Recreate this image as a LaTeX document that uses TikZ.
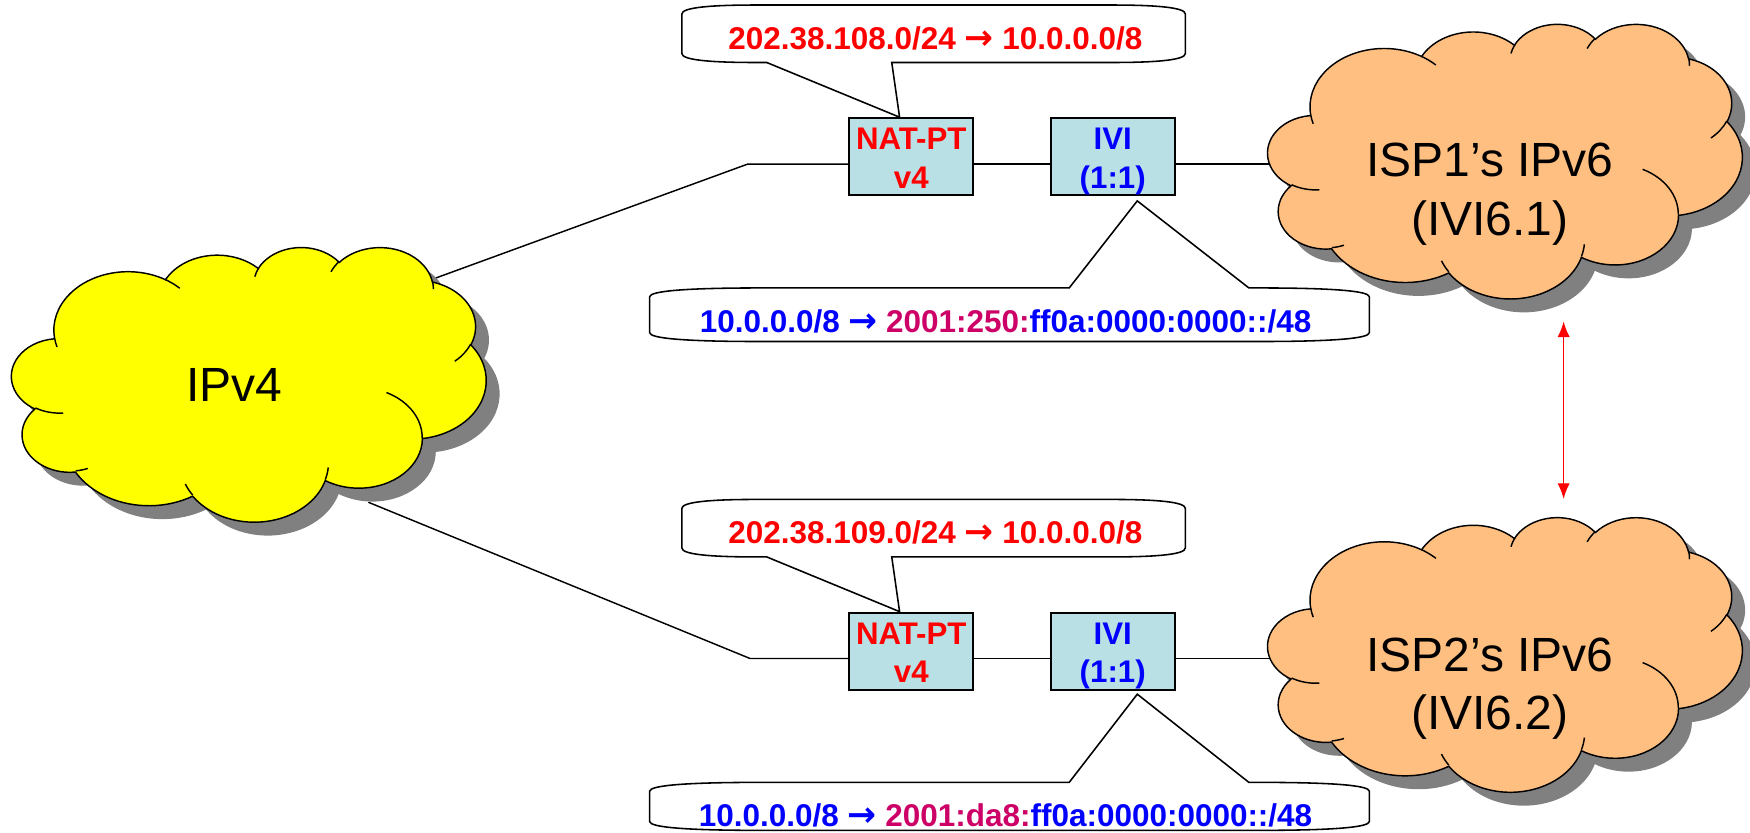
\documentclass[tikz,border=0pt]{standalone}
\usepackage{fontspec}
\setmainfont{Liberation Sans}
\newfontfamily\arrowfont{DejaVu Sans}
\newcommand\addrarrow{{\arrowfont\fontsize{31}{33}\selectfont →}}
\usetikzlibrary{arrows.meta,calc}
\definecolor{boxfill}{RGB}{185,224,228}
\definecolor{ipvyellow}{RGB}{255,255,0}
\definecolor{isporange}{RGB}{255,191,128}
\definecolor{shadowgray}{RGB}{128,128,128}
\definecolor{addrred}{RGB}{255,0,0}
\definecolor{addrblue}{RGB}{0,0,255}
\definecolor{addrmag}{RGB}{204,0,102}
% elliptic arc defined by visual angles (DrawingML style)
\newcommand\defcarc[5]{%
  \pgfmathsetmacro\ctA{atan2((#2)*sin(#4),(#3)*cos(#4))}%
  \pgfmathsetmacro\ctB{atan2((#2)*sin((#4)+(#5)),(#3)*cos((#4)+(#5)))}%
  \pgfmathsetmacro\ctD{mod((\ctB)-(\ctA)+540,360)-180}%
  \expandafter\xdef\csname carc#1\endcsname{arc[x radius=#2, y radius=#3, start angle=\ctA, delta angle=\ctD]}}
\defcarc{A}{6.753}{9.19}{-190.4875}{123.7805}
\defcarc{B}{5.333}{7.267}{-144.1024}{89.9452}
\defcarc{C}{4.365}{5.945}{-145.8079}{99.7230}
\defcarc{D}{4.857}{6.595}{-130.9861}{117.2417}
\defcarc{E}{5.333}{7.273}{-78.7089}{109.0269}
\defcarc{F}{6.775}{9.22}{-46.2673}{130.2690}
\defcarc{G}{5.785}{7.867}{0.6250}{114.0333}
\defcarc{H}{6.752}{9.215}{22.4516}{115.1726}
\defcarc{I}{7.72}{10.543}{66.2426}{75.7110}
\defcarc{J}{4.36}{5.918}{-274.9421}{146.7356}
\defcarc{K}{4.345}{5.945}{-246.8285}{152.5189}
\defcarc{a}{4.345}{5.945}{86.7420}{26.4295}
\defcarc{b}{4.36}{5.918}{73.6105}{11.4475}
\defcarc{c}{6.752}{9.215}{137.6242}{14.0811}
\defcarc{d}{6.752}{9.215}{6.4533}{15.9984}
\defcarc{e}{5.785}{7.867}{-70.2924}{70.9174}
\defcarc{f}{5.333}{7.273}{30.3180}{27.7515}
\defcarc{g}{4.857}{6.595}{-13.7443}{14.8589}
\defcarc{h}{4.857}{6.595}{-149.1815}{18.1954}
\defcarc{i}{4.365}{5.945}{-163.4943}{17.6864}
\defcarc{j}{6.753}{9.19}{-66.7070}{12.3194}
\defcarc{k}{6.753}{9.19}{157.6544}{11.8582}
\def\cloudpath{(3.9,14.37) \carcA \carcB \carcC \carcD \carcE \carcF \carcG \carcH \carcI \carcJ \carcK -- cycle}
\def\cloudinner{(4.693,26.177) \carca (6.928,34.899) \carcb (16.478,39.09) \carcc (28.827,34.751) \carcd (34.129,22.954) \carce (41.798,15.354) \carcf (38.324,5.426) \carcg (29.078,3.952) \carch (22.141,4.72) \carci (14.0,5.192) \carcj (4.127,15.789) \carck}
\newcommand\pptcloud[3]{%
  \begin{scope}[shift={(#1+12,#2+12)},x=9.838pt,y=-5.694pt]
    \fill[shadowgray] \cloudpath;
  \end{scope}
  \begin{scope}[shift={(#1,#2)},x=9.838pt,y=-5.694pt]
    \filldraw[fill=#3,draw=black,line width=1.3pt] \cloudpath;
    \draw[line width=1.3pt] \cloudinner;
  \end{scope}}
% callout with wedge on the bottom edge
\newcommand\calloutdown[8]{%
  \draw[callout] (#1,#2+8) .. controls (#1,#2+2.5) and (#1+0.35*#5,#2) .. (#1+#5,#2) -- (#3-#5,#2)
    .. controls (#3-0.35*#5,#2) and (#3,#2+2.5) .. (#3,#2+8) -- (#3,#4-8)
    .. controls (#3,#4-2.5) and (#3-0.35*#5,#4) .. (#3-#5,#4) -- (#7,#4) -- (#8) -- (#6,#4) -- (#1+#5,#4)
    .. controls (#1+0.35*#5,#4) and (#1,#4-2.5) .. (#1,#4-8) -- cycle;}
% callout with wedge on the top edge
\newcommand\calloutup[8]{%
  \draw[callout] (#1,#2+8) .. controls (#1,#2+2.5) and (#1+0.35*#5,#2) .. (#1+#5,#2) -- (#6,#2) -- (#8) -- (#7,#2) -- (#3-#5,#2)
    .. controls (#3-0.35*#5,#2) and (#3,#2+2.5) .. (#3,#2+8) -- (#3,#4-8)
    .. controls (#3,#4-2.5) and (#3-0.35*#5,#4) .. (#3-#5,#4) -- (#1+#5,#4)
    .. controls (#1+0.35*#5,#4) and (#1,#4-2.5) .. (#1,#4-8) -- cycle;}
\begin{document}
\begin{tikzpicture}[x=1pt,y=-1pt,
  link/.style={draw=black,line width=1.3pt},
  devbox/.style={draw=black,line width=1.8pt,fill=boxfill,minimum width=111pt,minimum height=69pt,inner sep=0pt,outer sep=0pt},
  callout/.style={draw=black,line width=1.4pt,fill=white},
  boxlbl/.style={font=\bfseries\fontsize{28}{33}\selectfont,anchor=base,inner sep=0pt},
  calloutlbl/.style={font=\bfseries\fontsize{28.2}{33}\selectfont,anchor=base,inner sep=0pt},
  cloudlbl/.style={font=\fontsize{43}{52}\selectfont,anchor=base,inner sep=0pt}]
\useasboundingbox (0,0) rectangle (1568,746);
% devices
\node[devbox] (natA) at (816.5,140.5) {};
\node[devbox] (iviA) at (997,140.5) {};
\node[devbox] (natB) at (816.5,583.5) {};
\node[devbox] (iviB) at (997,583.5) {};
% connector points
\coordinate (v4top) at (388,250);
\coordinate (jogA) at (670,147);
\coordinate (isp1w) at (1150,147);
\coordinate (v4bot) at (330,450);
\coordinate (jogB) at (672,590);
\coordinate (isp2w) at (1150,590);
\draw[link] (v4top) -- (jogA) -- (natA.west |- jogA);
\draw[link] (natA.east |- jogA) -- (iviA.west |- jogA);
\draw[link] (iviA.east |- jogA) -- (isp1w);
\draw[link] (v4bot) -- (jogB) -- (natB.west |- jogB);
\draw[link] (natB.east |- jogB) -- (iviB.west |- jogB);
\draw[link] (iviB.east |- jogB) -- (isp2w);
% clouds
\pptcloud{10.5}{221}{ipvyellow}
\pptcloud{1136}{21}{isporange}
\pptcloud{1136}{463}{isporange}
% callouts
\coordinate (tipNA) at (806,105);
\coordinate (tipIA) at (1019,180);
\coordinate (tipNB) at (806,548);
\coordinate (tipIB) at (1019,622);
\calloutdown{611}{4.5}{1062}{56}{66}{687}{799}{tipNA}
\calloutup{582}{258}{1227}{306}{100}{958}{1119}{tipIA}
\calloutdown{611}{447.5}{1062}{499}{66}{687}{799}{tipNB}
\calloutup{582}{701}{1227}{744}{100}{958}{1119}{tipIB}
% red arrow
\coordinate (arrTop) at (1401,288);
\coordinate (arrBot) at (1401,447);
\draw[addrred,line width=1.2pt,{Latex[length=14pt,width=11pt]}-{Latex[length=14pt,width=11pt]}] (arrTop) -- (arrBot);
% texts
\node[calloutlbl,text=addrred] (txtNA) at (838,44) {202.38.108.0/24 \addrarrow{} 10.0.0.0/8};
\node[calloutlbl,text=addrblue] (txtIA) at (901,297.5) {10.0.0.0/8 \addrarrow{} \textcolor{addrmag}{2001:250:}ff0a:0000:0000::/48};
\node[calloutlbl,text=addrred] (txtNB) at (838,487) {202.38.109.0/24 \addrarrow{} 10.0.0.0/8};
\node[calloutlbl,text=addrblue] (txtIB) at (901,740.5) {10.0.0.0/8 \addrarrow{} \textcolor{addrmag}{2001:da8:}ff0a:0000:0000::/48};
\node[boxlbl,text=addrred] (natAl1) at (816.5,134.4) {NAT-PT};
\node[boxlbl,text=addrred] (natAl2) at (816.5,168.5) {v4};
\node[boxlbl,text=addrblue] (iviAl1) at (997,134.4) {IVI};
\node[boxlbl,text=addrblue] (iviAl2) at (997,168.5) {(1:1)};
\node[boxlbl,text=addrred] (natBl1) at (816.5,577.4) {NAT-PT};
\node[boxlbl,text=addrred] (natBl2) at (816.5,611.5) {v4};
\node[boxlbl,text=addrblue] (iviBl1) at (997,577.4) {IVI};
\node[boxlbl,text=addrblue] (iviBl2) at (997,611.5) {(1:1)};
\node[cloudlbl] (v4lbl) at (210,360) {IPv4};
\node[cloudlbl] (isp1l1) at (1335,158.3) {ISP1’s IPv6};
\node[cloudlbl] (isp1l2) at (1335,210.6) {(IVI6.1)};
\node[cloudlbl] (isp2l1) at (1335,601.3) {ISP2’s IPv6};
\node[cloudlbl] (isp2l2) at (1335,653.6) {(IVI6.2)};
\end{tikzpicture}
\end{document}
